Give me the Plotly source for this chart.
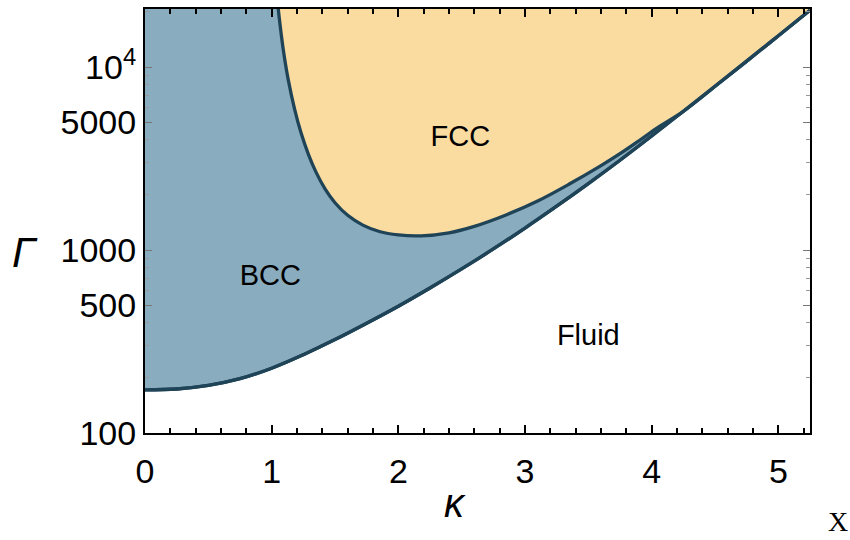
import plotly.graph_objects as go

# ---- data ----
# fluid / solid (melting) boundary
kappa_melt = [0, 0.25, 0.5, 0.75, 1.0, 1.25, 1.5, 1.75, 2.0, 2.25, 2.5, 2.75,
              3.0, 3.25, 3.5, 3.75, 4.0, 4.25, 4.5, 4.75, 5.0, 5.25]
gamma_melt = [172, 174, 182, 198, 226, 268, 324, 398, 493, 620, 788, 1013,
              1318, 1735, 2306, 3094, 4195, 5726, 7846, 10772, 14825, 20430]

# bcc / fcc boundary (up to where it joins the melting line)
kappa_bf = [1.045, 1.06, 1.09, 1.13, 1.18, 1.23, 1.29, 1.35, 1.42, 1.5, 1.6,
            1.72, 1.85, 2.0, 2.18, 2.4, 2.6, 2.85, 3.1, 3.35, 3.6, 3.75, 3.9, 4.05]
gamma_bf = [23220, 18530, 12670, 8585, 5928, 4412, 3333, 2664, 2167, 1813, 1548,
            1368, 1262, 1209, 1196, 1242, 1347, 1555, 1853, 2293, 2890, 3358, 3952, 4679]

kappa_join = 4.25  # where the bcc/fcc line merges into the melting line

region_labels = ["FCC", "BCC", "Fluid"]
region_kappa = [2.49, 0.99, 3.50]
region_gamma = [4070, 706, 330]

x_ticks = [0, 1, 2, 3, 4, 5]
y_ticks = [100, 500, 1000, 5000, 10000]
y_ticktext = ["100", "500", "1000", "5000", "10<sup>4</sup>"]
y_minor = [200, 300, 400, 600, 700, 800, 900, 2000, 3000, 4000,
           6000, 7000, 8000, 9000, 20000]

# ---- styling ----
BLUE = "#8AACBF"
ORANGE = "#FADBA0"
LINE = "#1F4458"
TOP = 40000
XMAX = 5.25
SPL = dict(shape="spline", smoothing=1.0)

fig = go.Figure()

# BCC (everything above the melting line)
fig.add_trace(go.Scatter(x=[0, XMAX], y=[TOP, TOP], mode="lines",
                         line=dict(width=0, color=BLUE), hoverinfo="skip",
                         showlegend=False))
fig.add_trace(go.Scatter(x=kappa_melt, y=gamma_melt, mode="lines",
                         line=dict(color=LINE, width=3.3, **SPL),
                         fill="tonexty", fillcolor=BLUE, showlegend=False))

# FCC region: bcc/fcc boundary then the shared part of the melting line
fcc_k = kappa_bf + [k for k in kappa_melt if k >= kappa_join]
fcc_g = gamma_bf + [g for k, g in zip(kappa_melt, gamma_melt) if k >= kappa_join]
fig.add_trace(go.Scatter(x=[kappa_bf[0], XMAX], y=[TOP, TOP], mode="lines",
                         line=dict(width=0, color=ORANGE), hoverinfo="skip",
                         showlegend=False))
fig.add_trace(go.Scatter(x=fcc_k, y=fcc_g, mode="lines",
                         line=dict(color=LINE, width=3.3, **SPL),
                         fill="tonexty", fillcolor=ORANGE, showlegend=False))

# redraw melting line on top
fig.add_trace(go.Scatter(x=kappa_melt, y=gamma_melt, mode="lines",
                         line=dict(color=LINE, width=3.3, **SPL),
                         showlegend=False))

# region labels
fig.add_trace(go.Scatter(x=region_kappa, y=region_gamma, mode="text",
                         text=region_labels,
                         textfont=dict(family="Liberation Sans", size=29, color="black"),
                         showlegend=False))

tickfont = dict(family="Liberation Sans", size=34, color="black")

fig.update_xaxes(range=[0, XMAX], tickvals=x_ticks, ticks="inside", ticklen=8,
                 tickwidth=2, tickcolor="black", showline=True, linecolor="black",
                 linewidth=2, mirror="ticks", showgrid=False, zeroline=False,
                 tickfont=tickfont, ticklabelstandoff=7,
                 minor=dict(dtick=0.2, tick0=0, ticks="inside", ticklen=5,
                            tickwidth=1.5, tickcolor="black", showgrid=False))
fig.update_yaxes(type="log", range=[2, 4.317], tickvals=y_ticks, ticktext=y_ticktext,
                 ticks="inside", ticklen=7, tickwidth=1, tickcolor="#777",
                 showline=True, linecolor="black", linewidth=2, mirror="ticks",
                 showgrid=False, zeroline=False, tickfont=tickfont,
                 ticklabelstandoff=0,
                 minor=dict(tickvals=y_minor, ticks="inside", ticklen=4,
                            tickwidth=1, tickcolor="#999", showgrid=False))

fig.add_annotation(text="<i>Γ</i>", xref="paper", yref="paper", x=-0.1805, y=0.425,
                   xanchor="center", yanchor="middle", showarrow=False,
                   font=dict(family="Liberation Sans", size=42, color="black"))
fig.add_annotation(text="<i>κ</i>", xref="paper", yref="paper", x=0.466, y=-0.164,
                   xanchor="center", yanchor="middle", showarrow=False,
                   font=dict(family="Liberation Sans", size=40, color="black"))
fig.add_annotation(text="X", xref="paper", yref="paper", x=1.042, y=-0.209,
                   xanchor="center", yanchor="middle", showarrow=False,
                   font=dict(family="Liberation Serif", size=28, color="black"))

fig.update_layout(width=850, height=540, margin=dict(l=145, r=40, t=7, b=107),
                  plot_bgcolor="white", paper_bgcolor="white")

fig.write_html("out.html")
